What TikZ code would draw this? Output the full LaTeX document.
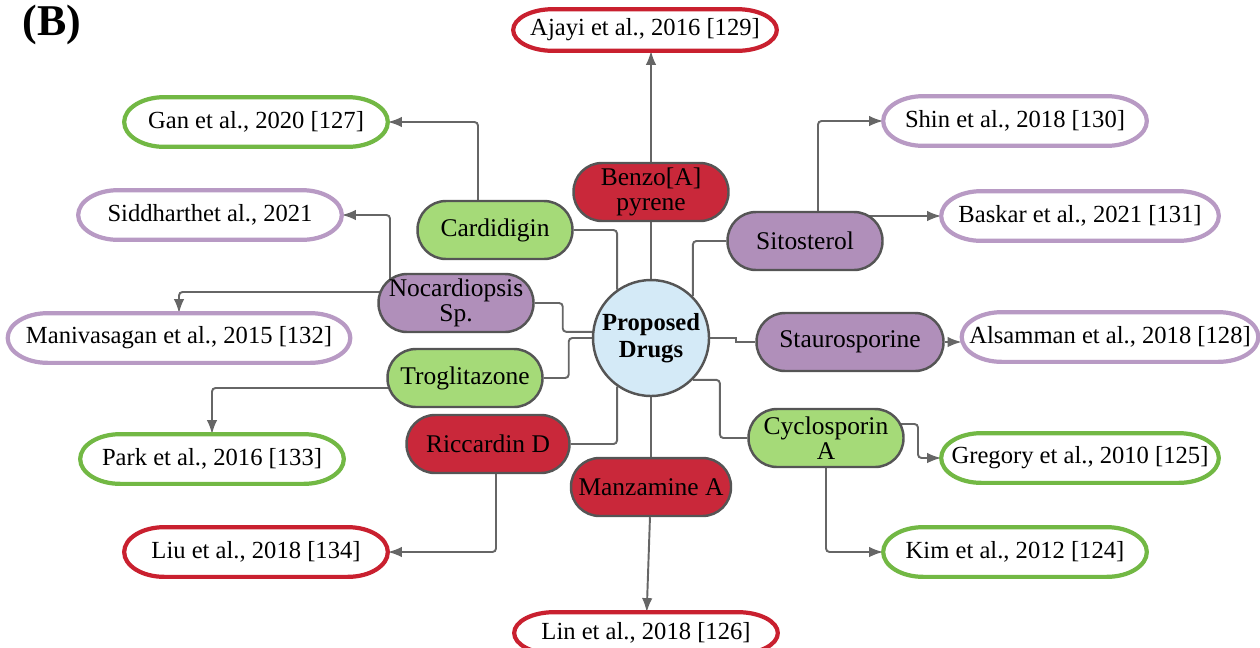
\documentclass[tikz,border=0pt]{standalone}
\usepackage{fontspec}
\setmainfont{Liberation Serif}
\usepackage{xcolor}
\usetikzlibrary{arrows.meta,calc,backgrounds}

\definecolor{DrugRed}{HTML}{C9283A}
\definecolor{DrugGreen}{HTML}{A5DA78}
\definecolor{DrugPurple}{HTML}{B08FBA}
\definecolor{HubBlue}{HTML}{D4EAF7}
\definecolor{DrugEdge}{HTML}{555555}
\definecolor{RefRed}{HTML}{C9202F}
\definecolor{RefGreen}{HTML}{72B844}
\definecolor{RefPurple}{HTML}{B89AC4}
\definecolor{LinkGray}{HTML}{666666}

\tikzset{
  hub/.style={circle,draw=DrugEdge,fill=HubBlue,line width=1.4pt,minimum size=2.32cm,
    inner sep=0pt,align=center,font=\fontsize{14}{15}\selectfont\bfseries},
  drug/.style={draw=DrugEdge,line width=1.4pt,rounded corners=0.57cm,minimum width=3.1cm,
    minimum height=1.16cm,align=center,inner sep=2pt,font=\fontsize{14.5}{14}\selectfont},
  ref/.style={fill=white,minimum height=0.98cm,minimum width=5.26cm,
    font=\fontsize{14}{15}\selectfont},
  link/.style={draw=LinkGray,line width=1.1pt,rounded corners=2pt},
  arr/.style={link,-{Latex[length=8pt,width=6pt]}}
}

% oval border round a reference node
\newcommand{\refoval}[2]{%
  \draw[#2,line width=2.4pt] let \p1=(#1.north west), \p2=(#1.south east),
      \n1={(\y1-\y2)/2} in
    (\x1+0.8cm,\y1) arc[start angle=90,end angle=270,x radius=0.8cm,y radius=\n1]
    -- (\x2-0.8cm,\y2) arc[start angle=-90,end angle=90,x radius=0.8cm,y radius=\n1]
    -- cycle;}

\begin{document}
\begin{tikzpicture}[x=0.02cm,y=-0.02cm]
  \useasboundingbox (0,0) rectangle (1260,647);

  % panel label
  \node[font=\fontsize{25}{27}\selectfont\bfseries] (panel) at (52,25) {(B)};

  % centre
  \node[hub] (hub) at (651,338) {Proposed\\Drugs};

  % drugs
  \node[drug,fill=DrugRed] (benzo) at (651,192) {Benzo[A]\\pyrene};
  \node[drug,fill=DrugGreen] (card) at (495,230) {Cardidigin};
  \node[drug,fill=DrugPurple] (sito) at (805,241) {Sitosterol};
  \node[drug,fill=DrugPurple] (nocar) at (456,303) {Nocardiopsis\\Sp.};
  \node[drug,fill=DrugPurple,minimum width=3.74cm] (stauro) at (850,342) {Staurosporine};
  \node[drug,fill=DrugGreen] (trog) at (465,378) {Troglitazone};
  \node[drug,fill=DrugRed,minimum width=3.26cm] (ricc) at (488,444) {Riccardin D};
  \node[drug,fill=DrugRed,minimum width=3.2cm] (manz) at (651,487) {Manzamine A};
  \node[drug,fill=DrugGreen] (cyclo) at (826,438) {Cyclosporin\\A};

  % references
  \node[ref,minimum height=0.82cm] (ajayi) at (645,30) {Ajayi et al., 2016 [129]};
  \node[ref] (gan) at (256,122) {Gan et al., 2020 [127]};
  \node[ref] (shin) at (1015,121) {Shin et al., 2018 [130]};
  \node[ref] (sidd) at (210,215) {Siddharthet al., 2021};
  \node[ref,minimum width=5.54cm] (baskar) at (1080,216) {Baskar et al., 2021 [131]};
  \node[ref,minimum width=6.84cm] (maniv) at (179,338) {Manivasagan et al., 2015 [132]};
  \node[ref,minimum width=5.92cm] (alsam) at (1110,337) {Alsamman et al., 2018 [128]};
  \node[ref] (park) at (212,459) {Park et al., 2016 [133]};
  \node[ref,minimum width=5.54cm] (greg) at (1080,458) {Gregory et al., 2010 [125]};
  \node[ref] (liu) at (256,552) {Liu et al., 2018 [134]};
  \node[ref] (kim) at (1015,552) {Kim et al., 2012 [124]};
  \node[ref,minimum height=0.82cm] (lin) at (646,633) {Lin et al., 2018 [126]};

  \foreach \nd/\cl in {ajayi/RefRed,gan/RefGreen,shin/RefPurple,sidd/RefPurple,
      baskar/RefPurple,maniv/RefPurple,alsam/RefPurple,park/RefGreen,
      greg/RefGreen,liu/RefRed,kim/RefGreen,lin/RefRed}
    \refoval{\nd}{\cl};

  % connectors
  \begin{scope}[on background layer]
    \draw[link] (hub) -- (benzo);
    \draw[arr] (benzo) -- (benzo |- ajayi.south);
    \draw[link] (card.east) -| (hub.125);
    \draw[arr] ($(card.center)+(-17,0)$) |- (gan.east);
    \draw[link] (hub.45) |- (sito.west);
    \draw[arr] ($(sito.center)+(13,0)$) |- (shin.west);
    \draw[arr] (sito |- baskar.west) -- (baskar.west);
    \draw[link] (nocar.east) -- ++(28,0) |- (hub.174);
    \draw[arr] ($(nocar.center)+(-66,0)$) |- (sidd.east);
    \draw[arr] ($(nocar.center)+(0,-11)$) -| (maniv.north);
    \draw[link] (trog.east) -- ++(25,0) |- (hub.west);
    \draw[arr] ($(trog.center)+(0,10)$) -| (park.north);
    \draw[link] (ricc.east) -| (hub.235);
    \draw[arr] ($(ricc.center)+(8,0)$) |- (liu.east);
    \draw[link] (hub) -- (manz);
    \draw[arr] (manz) -- (lin);
    \draw[link] (hub.-45) -- ++(27,0) |- (cyclo.west);
    \draw[arr] ($(cyclo.center)+(0,-14)$) -- ++(92,0) |- (greg.west);
    \draw[arr] (cyclo) |- (kim.west);
    \draw[link,sharp corners] (hub.east) -- ++(26,0) |- (stauro.west);
    \draw[arr] (stauro) -- (stauro -| alsam.west);
  \end{scope}
\end{tikzpicture}
\end{document}
